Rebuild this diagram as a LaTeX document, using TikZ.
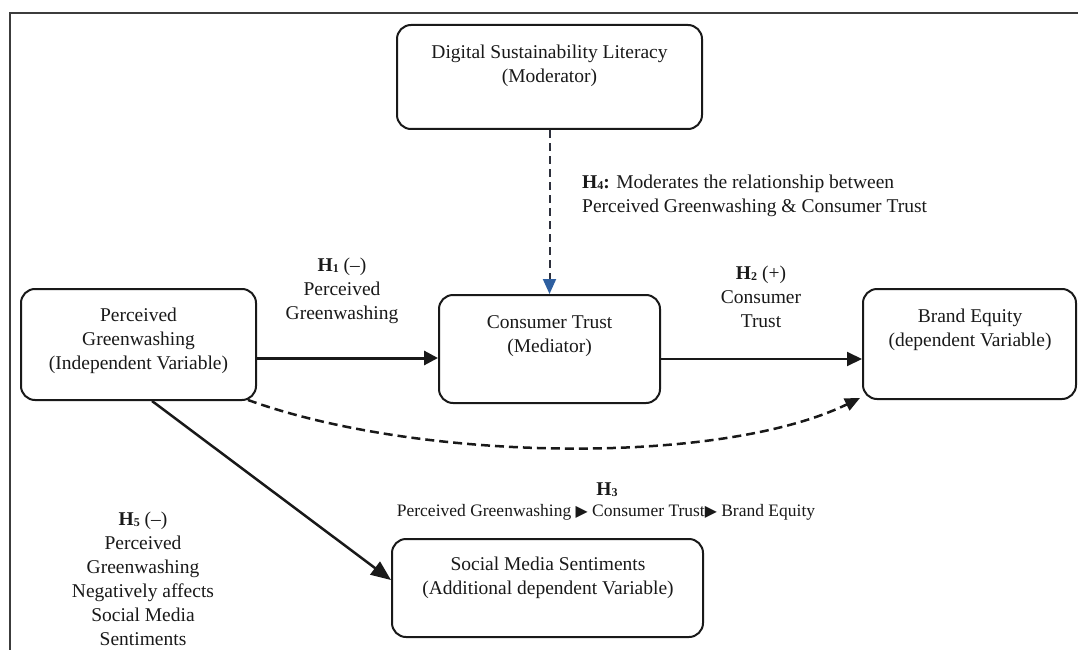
\documentclass[tikz,border=0pt]{standalone}
\usepackage{fontspec}
\setmainfont{Liberation Serif}
\newfontfamily\symf{DejaVu Sans}[Scale=0.9]
\usetikzlibrary{arrows.meta}
\definecolor{tipblue}{RGB}{46,95,160}
\definecolor{framegray}{RGB}{60,60,60}
\definecolor{inkc}{RGB}{25,25,25}
\definecolor{dashc}{RGB}{45,48,60}
\newcommand{\hsub}[1]{\textbf{H\raisebox{-1pt}{\fontsize{12}{12}\selectfont #1}}}
\begin{document}
\begin{tikzpicture}[x=1pt,y=-1pt,
  box/.style={draw=inkc, line width=2pt, rounded corners=14pt},
  txt/.style={align=center, text=inkc, font=\fontsize{19.5}{24}\selectfont, inner sep=0pt},
  smalltxt/.style={align=center, text=inkc, font=\fontsize{17.5}{21}\selectfont, inner sep=0pt},
  solidarr/.style={draw=inkc, line width=2pt, -{Triangle[length=15pt,width=14pt]}},
  thickarr/.style={draw=inkc, line width=3pt, -{Triangle[length=14pt,width=14pt]}},
  diagarr/.style={draw=inkc, line width=2.5pt, -{Triangle[length=20pt,width=16pt]}},
  curvearr/.style={draw=inkc, line width=2.5pt, dash pattern=on 9pt off 5pt, -{Triangle[length=15pt,width=13pt]}},
  modarr/.style={draw=dashc, line width=2pt, dash pattern=on 8pt off 5pt, -{Triangle[length=15pt,width=13pt,color=tipblue,fill=tipblue]}}
]
\useasboundingbox (0,0) rectangle (1078,650);
% frame
\draw[framegray, line width=1.2pt] (10,650) -- (10,13) -- (1078,13);

% boxes
\node[box, minimum width=305pt, minimum height=104pt] (dsl) at (549.5,77) {};
\node[box, minimum width=235pt, minimum height=111pt] (pg) at (138.5,344.5) {};
\node[box, minimum width=221pt, minimum height=108pt] (ct) at (549.5,349) {};
\node[box, minimum width=213pt, minimum height=110pt] (be) at (969.5,344) {};
\node[box, minimum width=311pt, minimum height=98pt] (sm) at (547.5,588) {};

% box texts
\node[txt] (dslt) at (549.5,66) {Digital Sustainability Literacy\\(Moderator)};
\node[txt] (pgt) at (138.5,341) {Perceived\\Greenwashing\\(Independent Variable)};
\node[txt] (ctt) at (549.5,336.5) {Consumer Trust\\(Mediator)};
\node[txt] (bet) at (970,329.5) {Brand Equity\\(dependent Variable)};
\node[txt] (smt) at (548,578) {Social Media Sentiments\\(Additional dependent Variable)};

% hypothesis labels
\node[txt] (h1) at (342,291) {\hsub{1} (–)\\Perceived\\Greenwashing};
\node[txt] (h2) at (761,297) {\hsub{2} (+)\\Consumer\\Trust};
\node[txt, align=left, anchor=west] (h4) at (582,195.5) {\hsub{4}\textbf{:} Moderates the relationship between\\Perceived Greenwashing \& Consumer Trust};
\node[txt] (h3) at (607,490) {\hsub{3}};
\node[smalltxt] (h3l) at (606,512) {Perceived Greenwashing {\symf ▶} Consumer Trust{\symf ▶} Brand Equity};
\node[txt] (h5) at (143,579) {\hsub{5} (–)\\Perceived\\Greenwashing\\Negatively affects\\Social Media\\Sentiments};

% connectors
\draw[thickarr] ([yshift=-13.5pt]pg.east) coordinate (a1) -- (ct.west |- a1);
\draw[solidarr] ([yshift=-10pt]ct.east) coordinate (a2) -- (be.west |- a2);
\draw[modarr] (dsl.south) -- (ct.north);
\draw[diagarr] ([xshift=13.5pt]pg.south) -- ([yshift=8pt]sm.west);
\draw[curvearr] ([xshift=-9pt,yshift=1pt]pg.south east) .. controls (420,462) and (720,466) .. ([xshift=-2pt,yshift=2pt]be.south west);
\end{tikzpicture}
\end{document}
